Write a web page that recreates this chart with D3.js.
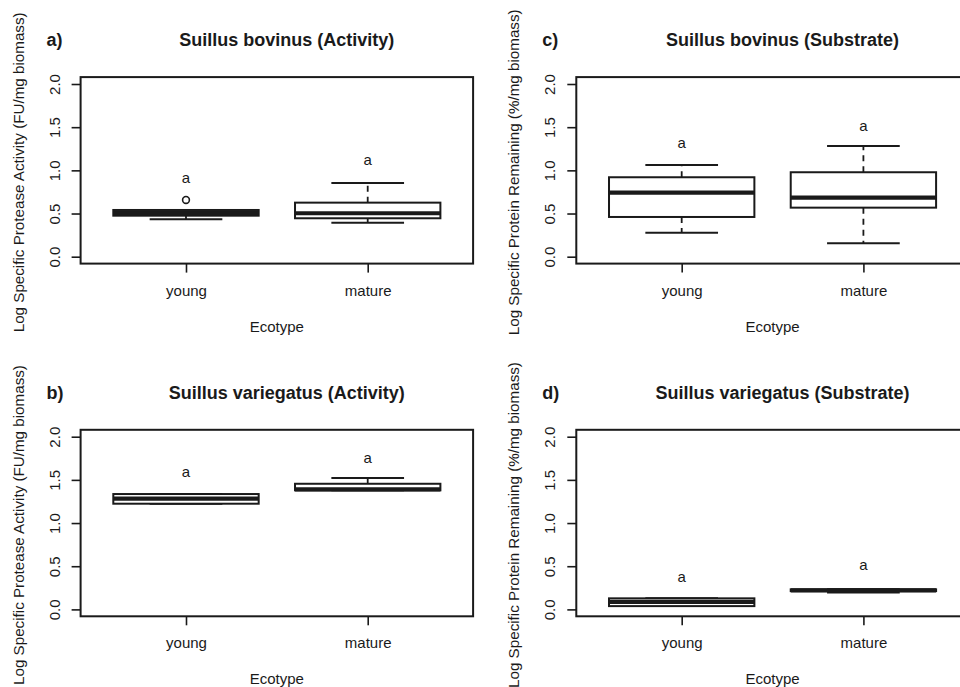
<!DOCTYPE html>
<html>
<head>
<meta charset="utf-8">
<script src="https://cdn.jsdelivr.net/npm/d3@7"></script>
<style>
  html, body { margin: 0; padding: 0; background: #ffffff; }
  svg { display: block; font-family: "Liberation Sans", Arial, Helvetica, sans-serif; }
  text { fill: #1a1a1a; }
</style>
</head>
<body>
<svg id="chart" width="960" height="687"></svg>
<script>
// ============================================================
// Data — five-number summaries (log scale)
// [lower whisker, Q1, median, Q3, upper whisker]
// ============================================================
const ECOTYPES = ["young", "mature"];
const Y_TICKS = [0, 0.5, 1.0, 1.5, 2.0];

const bovinusActivity  = [[0.433, 0.475, 0.505, 0.541, 0.541], [0.394, 0.445, 0.503, 0.626, 0.854]];
const bovinusActOut    = [[0.657], []];
const bovinusActLetter = [0.903, 1.109];

const variegatusActivity  = [[1.224, 1.224, 1.282, 1.336, 1.336], [1.379, 1.379, 1.390, 1.455, 1.521]];
const variegatusActOut    = [[], []];
const variegatusActLetter = [1.583, 1.738];

const bovinusSubstrate  = [[0.278, 0.460, 0.742, 0.920, 1.063], [0.155, 0.568, 0.684, 0.978, 1.283]];
const bovinusSubOut     = [[], []];
const bovinusSubLetter  = [1.306, 1.506];

const variegatusSubstrate  = [[0.038, 0.038, 0.086, 0.128, 0.128], [0.195, 0.212, 0.220, 0.232, 0.232]];
const variegatusSubOut     = [[], []];
const variegatusSubLetter  = [0.363, 0.503];

const SIG_LETTERS = ["a", "a"];

const ACT_LABEL = "Log Specific Protease Activity (FU/mg biomass)";
const SUB_LABEL = "Log Specific Protein Remaining (%/mg biomass)";

// panel layout (left/top of each plot region)
const panels = [
    { tag: "a)", title: "Suillus bovinus (Activity)",    yLabel: ACT_LABEL, stats: bovinusActivity,     out: bovinusActOut,     letters: bovinusActLetter,     left: 80.6,  top: 77.1 },
    { tag: "b)", title: "Suillus variegatus (Activity)", yLabel: ACT_LABEL, stats: variegatusActivity,  out: variegatusActOut,  letters: variegatusActLetter,  left: 80.6,  top: 429.8 },
    { tag: "c)", title: "Suillus bovinus (Substrate)",   yLabel: SUB_LABEL, stats: bovinusSubstrate,    out: bovinusSubOut,     letters: bovinusSubLetter,     left: 576.3, top: 77.1 },
    { tag: "d)", title: "Suillus variegatus (Substrate)",yLabel: SUB_LABEL, stats: variegatusSubstrate, out: variegatusSubOut,  letters: variegatusSubLetter,  left: 576.3, top: 429.8 }
];

const PLOT_W = 392.5;
const PLOT_H = 186.5;
const INK = "#1a1a1a";

const svg = d3.select("#chart");

panels.forEach(function (p) {
    const g = svg.append("g").attr("transform", `translate(${p.left},${p.top})`);

    // R-style padded ranges: x 0.5..2.5 (+4%), y 0..2 (+4%)
    const x = d3.scaleLinear().domain([0.42, 2.58]).range([0, PLOT_W]);
    const y = d3.scaleLinear().domain([-0.08, 2.08]).range([PLOT_H, 0]);
    const boxW = x(1.8) - x(1.0);   // boxwex 0.8
    const capW = boxW / 2;          // staplewex 0.5

    // y axis
    const yAxis = g.append("g")
        .call(d3.axisLeft(y).tickValues(Y_TICKS).tickFormat(d3.format(".1f")).tickSize(9).tickPadding(0));
    yAxis.select(".domain").remove();
    yAxis.selectAll(".tick line").attr("stroke", INK).attr("stroke-width", 1.6);
    yAxis.selectAll(".tick text")
        .attr("transform", "rotate(-90)")
        .attr("x", 0).attr("y", -21)
        .attr("dy", 0)
        .attr("text-anchor", "middle")
        .style("font-size", "15px")
        .style("font-family", "inherit")
        .attr("fill", INK);

    // x axis
    const xAxis = g.append("g")
        .attr("transform", `translate(0,${PLOT_H})`)
        .call(d3.axisBottom(x).tickValues([1, 2]).tickFormat(function (d) { return ECOTYPES[d - 1]; }).tickSize(9).tickPadding(0));
    xAxis.select(".domain").remove();
    xAxis.selectAll(".tick line").attr("stroke", INK).attr("stroke-width", 1.6);
    xAxis.selectAll(".tick text")
        .attr("y", 32).attr("dy", 0)
        .style("font-size", "15px")
        .style("font-family", "inherit")
        .attr("fill", INK);

    // boxes
    const boxes = g.selectAll(".box")
        .data(p.stats.map(function (s, i) { return { s: s, i: i + 1, out: p.out[i], letter: p.letters[i] }; }))
        .enter().append("g").attr("class", "box");

    // whiskers (dashed)
    boxes.append("line")
        .attr("x1", function (d) { return x(d.i); }).attr("x2", function (d) { return x(d.i); })
        .attr("y1", function (d) { return y(d.s[3]); }).attr("y2", function (d) { return y(d.s[4]); })
        .attr("stroke", INK).attr("stroke-width", 1.8).attr("stroke-dasharray", "6,5");
    boxes.append("line")
        .attr("x1", function (d) { return x(d.i); }).attr("x2", function (d) { return x(d.i); })
        .attr("y1", function (d) { return y(d.s[1]); }).attr("y2", function (d) { return y(d.s[0]); })
        .attr("stroke", INK).attr("stroke-width", 1.8).attr("stroke-dasharray", "6,5");

    // staples
    [0, 4].forEach(function (k) {
        boxes.append("line")
            .attr("x1", function (d) { return x(d.i) - capW / 2; })
            .attr("x2", function (d) { return x(d.i) + capW / 2; })
            .attr("y1", function (d) { return y(d.s[k]); })
            .attr("y2", function (d) { return y(d.s[k]); })
            .attr("stroke", INK).attr("stroke-width", 2);
    });

    // box
    boxes.append("rect")
        .attr("x", function (d) { return x(d.i) - boxW / 2; })
        .attr("width", boxW)
        .attr("y", function (d) { return y(d.s[3]); })
        .attr("height", function (d) { return y(d.s[1]) - y(d.s[3]); })
        .attr("fill", "#ffffff").attr("stroke", INK).attr("stroke-width", 2);

    // median
    boxes.append("line")
        .attr("x1", function (d) { return x(d.i) - boxW / 2; })
        .attr("x2", function (d) { return x(d.i) + boxW / 2; })
        .attr("y1", function (d) { return y(d.s[2]); })
        .attr("y2", function (d) { return y(d.s[2]); })
        .attr("stroke", INK).attr("stroke-width", 4.2);

    // outliers
    boxes.selectAll(".outlier")
        .data(function (d) { return d.out.map(function (v) { return { v: v, i: d.i }; }); })
        .enter().append("circle")
        .attr("class", "outlier")
        .attr("cx", function (d) { return x(d.i); })
        .attr("cy", function (d) { return y(d.v); })
        .attr("r", 3.4)
        .attr("fill", "none").attr("stroke", INK).attr("stroke-width", 1.6);

    // significance letters
    boxes.append("text")
        .attr("x", function (d) { return x(d.i); })
        .attr("y", function (d) { return y(d.letter) + 4; })
        .attr("text-anchor", "middle")
        .style("font-size", "15px")
        .text(function (d, i) { return SIG_LETTERS[i]; });

    // plot frame
    g.append("rect")
        .attr("width", PLOT_W).attr("height", PLOT_H)
        .attr("fill", "none").attr("stroke", INK).attr("stroke-width", 2);

    // titles
    g.append("text")
        .attr("x", PLOT_W / 2 + 10).attr("y", -31)
        .attr("text-anchor", "middle")
        .style("font-size", "18px").style("font-weight", "bold")
        .text(p.title);
    g.append("text")
        .attr("x", -34).attr("y", -31)
        .style("font-size", "18px").style("font-weight", "bold")
        .text(p.tag);

    // axis labels
    g.append("text")
        .attr("x", PLOT_W / 2).attr("y", PLOT_H + 68)
        .attr("text-anchor", "middle")
        .style("font-size", "15px")
        .text("Ecotype");
    g.append("text")
        .attr("transform", `translate(-57,${PLOT_H / 2 + 2}) rotate(-90)`)
        .attr("text-anchor", "middle")
        .style("font-size", "15.2px")
        .text(p.yLabel);
});
</script>
</body>
</html>
